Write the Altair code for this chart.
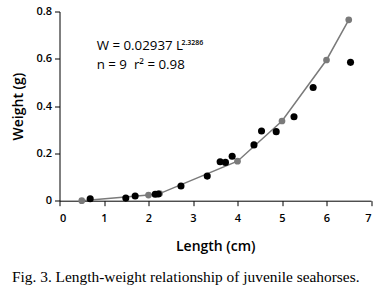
import altair as alt
import pandas as pd

# fitted curve (grey)
fit_L = [0.5, 2.0, 2.25, 4.0, 5.0, 6.0, 6.5]
fit_W = [0.0, 0.024, 0.030, 0.167, 0.337, 0.595, 0.765]
# observed (black)
obs_L = [0.69, 1.49, 1.70, 2.15, 2.22, 2.73, 3.32, 3.61, 3.73, 3.88, 4.37, 4.54, 4.87, 5.27, 5.70, 6.54]
obs_W = [0.008, 0.011, 0.020, 0.027, 0.028, 0.062, 0.104, 0.165, 0.162, 0.188, 0.236, 0.295, 0.292, 0.355, 0.479, 0.585]

x_ticks = [0, 1, 2, 3, 4, 5, 6, 7]
y_ticks = [0, 0.2, 0.4, 0.6, 0.8]

NB = "\u00a0"
eq_text = f"W{NB}={NB}0.02937{NB}L"
eq_sup = "2.3286"
stat_text = f"n{NB}={NB}9{NB}{NB}r\u00b2{NB}={NB}0.98"
caption = "Fig. 3. Length-weight relationship of juvenile seahorses."

fit = pd.DataFrame({"L": fit_L, "W": fit_W})
obs = pd.DataFrame({"L": obs_L, "W": obs_W})

FONT = "Open Sans"

xs = alt.Scale(domain=[0, 7], nice=False, zero=False)
ys = alt.Scale(domain=[0, 0.8], nice=False)

xax = alt.Axis(values=x_ticks, format="d", grid=False, title="Length (cm)",
               domainColor="black", tickColor="black", tickSize=5,
               labelFont=FONT, labelFontSize=11, labelFontWeight=600, labelColor="black",
               labelPadding=7, titleFont=FONT, titleFontSize=14, titleFontWeight=600,
               titleColor="black", titlePadding=16)
yax = alt.Axis(values=y_ticks, format="~g", grid=False, title="Weight (g)",
               domainColor="black", tickColor="black", tickSize=5,
               labelFont=FONT, labelFontSize=11, labelFontWeight=600, labelColor="black",
               labelPadding=3, titleFont=FONT, titleFontSize=14, titleFontWeight=600,
               titleColor="black", titlePadding=10)

line = alt.Chart(fit).mark_line(color="#7a7a7a", strokeWidth=1.5).encode(
    x=alt.X("L:Q", scale=xs, axis=xax),
    y=alt.Y("W:Q", scale=ys, axis=yax),
)
fit_pts = alt.Chart(fit).mark_circle(color="#7a7a7a", size=45, opacity=1).encode(
    x=alt.X("L:Q", scale=xs), y=alt.Y("W:Q", scale=ys))
obs_pts = alt.Chart(obs).mark_circle(color="black", size=50, opacity=1).encode(
    x=alt.X("L:Q", scale=xs), y=alt.Y("W:Q", scale=ys))

t1 = alt.Chart().mark_text(text=eq_text, font=FONT, fontSize=13.3, align="left",
                           baseline="alphabetic", color="black").encode(
    x=alt.datum(0.836, scale=xs), y=alt.datum(0.638, scale=ys))
t1s = alt.Chart().mark_text(text=eq_sup, font=FONT, fontSize=7, fontWeight=600, align="left",
                            baseline="alphabetic", color="black").encode(
    x=alt.datum(2.74, scale=xs), y=alt.datum(0.660, scale=ys))
t2 = alt.Chart().mark_text(text=stat_text, font=FONT, fontSize=13.3, align="left",
                           baseline="alphabetic", color="black").encode(
    x=alt.datum(0.836, scale=xs), y=alt.datum(0.558, scale=ys))

chart = alt.layer(line, fit_pts, obs_pts, t1, t1s, t2).properties(
    width=311.5, height=189.2,
    autosize=alt.AutoSizeParams(type="none"),
    padding={"left": 59.5, "top": 11.5, "right": 13, "bottom": 91.3},
    title=alt.TitleParams(caption, orient="bottom", anchor="start", frame="group",
                          dx=-47.5, offset=16, font="Liberation Serif", fontSize=15.4,
                          fontWeight="normal", color="black"),
).configure_view(stroke=None).configure_axisX(domainWidth=1).configure_axisY(domainWidth=1)

chart.save("out.html", embed_options={"renderer": "svg", "actions": False})
